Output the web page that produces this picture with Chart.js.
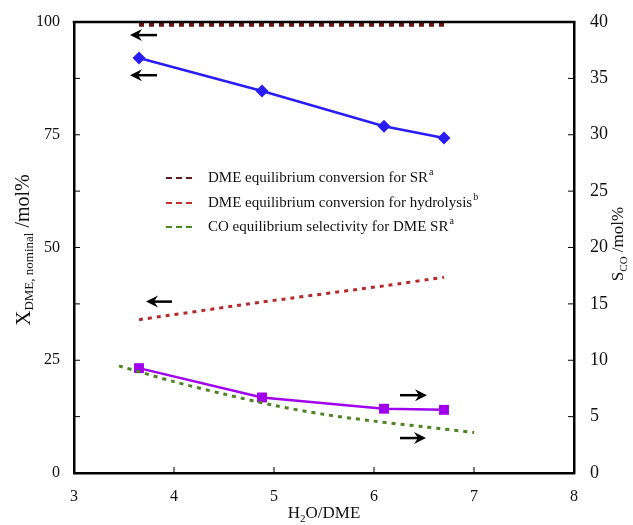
<!DOCTYPE html>
<html>
<head>
<meta charset="utf-8">
<script src="https://cdn.jsdelivr.net/npm/chart.js@4.4.1/dist/chart.umd.min.js"></script>
<style>
html,body{margin:0;padding:0;background:#fff;}
#wrap{width:633px;height:525px;}
</style>
</head>
<body>
<div id="wrap"><canvas id="c" width="633" height="525"></canvas></div>
<script>
// ---- data ----
const xMeas = [3.65, 4.88, 6.1, 6.7];
const xDME = [92.0, 84.7, 76.9, 74.3];
const sCO = [9.3, 6.7, 5.7, 5.6];
const xEqSR = [3.65, 6.7];
const eqSR = [99.4, 99.4];
const xHyd = [3.65, 4.88, 6.1, 6.7];
const eqHyd = [34.0, 37.9, 41.5, 43.4];
const xCOeq = [3.45, 4.0, 4.5, 5.0, 5.5, 6.0, 6.5, 7.0];
const coEq = [9.5, 8.1, 7.0, 6.0, 5.2, 4.6, 4.1, 3.6];
const xTicks = [3, 4, 5, 6, 7, 8];
const yLeftTicks = [0, 25, 50, 75, 100];
const yRightTicks = [0, 5, 10, 15, 20, 25, 30, 35, 40];
// arrow annotations (data units): tail x, tip x, y, axis
const arrowTail = [3.83, 3.83, 3.98, 6.26, 6.26];
const arrowTip = [3.56, 3.56, 3.72, 6.53, 6.52];
const arrowY = [97.1, 88.2, 38.0, 6.9, 3.1];
const arrowAxis = ['y', 'y', 'y', 'y2', 'y2'];
const legendLabels = [
  ['DME equilibrium conversion for SR', 'a'],
  ['DME equilibrium conversion for hydrolysis', 'b'],
  ['CO equilibrium selectivity for DME SR', 'a']
];
const legendColors = ['#5c1a1a', '#c0302e', '#4a8a22'];

const pts = (xs, ys) => xs.map((x, i) => ({x: x, y: ys[i]}));
const SERIF = '"Liberation Serif", "DejaVu Serif", serif';

const decor = {
  id: 'decor',
  afterDraw(chart) {
    const ctx = chart.ctx;
    const ca = chart.chartArea;
    const sx = chart.scales.x, sy = chart.scales.y, sy2 = chart.scales.y2;
    ctx.save();
    // top border
    ctx.strokeStyle = '#000';
    ctx.lineWidth = 2.5;
    ctx.beginPath();
    ctx.moveTo(ca.left - 1.25, ca.top);
    ctx.lineTo(ca.right + 1.25, ca.top);
    ctx.stroke();
    // inward ticks
    ctx.lineWidth = 1;
    ctx.beginPath();
    for (let v = 0; v <= 100; v += 12.5) {
      const y = sy.getPixelForValue(v);
      ctx.moveTo(ca.left, y); ctx.lineTo(ca.left + 6, y);
    }
    yRightTicks.forEach(v => {
      const y = sy2.getPixelForValue(v);
      ctx.moveTo(ca.right, y); ctx.lineTo(ca.right - 6, y);
    });
    xTicks.forEach(v => {
      const x = sx.getPixelForValue(v);
      ctx.moveTo(x, ca.bottom); ctx.lineTo(x, ca.bottom - 6);
    });
    ctx.stroke();
    // arrows
    ctx.fillStyle = '#000';
    ctx.strokeStyle = '#000';
    arrowTail.forEach((t, i) => {
      const scale = arrowAxis[i] === 'y' ? sy : sy2;
      const y = scale.getPixelForValue(arrowY[i]);
      const x0 = sx.getPixelForValue(t), x1 = sx.getPixelForValue(arrowTip[i]);
      const dir = x1 > x0 ? 1 : -1;
      ctx.lineWidth = 2.5;
      ctx.beginPath();
      ctx.moveTo(x0, y); ctx.lineTo(x1 - dir * 8, y);
      ctx.stroke();
      ctx.beginPath();
      ctx.moveTo(x1, y);
      ctx.lineTo(x1 - dir * 12, y - 6);
      ctx.lineTo(x1 - dir * 8, y);
      ctx.lineTo(x1 - dir * 12, y + 6);
      ctx.closePath();
      ctx.fill();
    });
    // legend
    ctx.textBaseline = 'middle';
    ctx.textAlign = 'left';
    const rows = [178, 203, 227];
    legendLabels.forEach((lab, i) => {
      const y = rows[i];
      ctx.strokeStyle = legendColors[i];
      ctx.lineWidth = 2;
      ctx.setLineDash([6, 4]);
      ctx.beginPath();
      ctx.moveTo(166, y); ctx.lineTo(196, y);
      ctx.stroke();
      ctx.setLineDash([]);
      ctx.fillStyle = '#111';
      ctx.font = '15px ' + SERIF;
      ctx.fillText(lab[0], 208, y);
      const w = ctx.measureText(lab[0]).width;
      ctx.font = '10px ' + SERIF;
      ctx.fillText(lab[1], 208 + w + 1, y - 6);
    });
    // axis titles
    const drawSegs = (segs) => {
      let total = 0;
      segs.forEach(s => { ctx.font = s.size + 'px ' + SERIF; s.w = ctx.measureText(s.t).width; total += s.w; });
      let x = -total / 2;
      segs.forEach(s => { ctx.font = s.size + 'px ' + SERIF; ctx.fillText(s.t, x, s.dy || 0); x += s.w; });
    };
    ctx.fillStyle = '#111';
    ctx.textBaseline = 'middle';
    // x title
    ctx.save();
    ctx.translate((ca.left + ca.right) / 2, 514);
    drawSegs([{t: 'H', size: 17}, {t: '2', size: 11, dy: 5}, {t: 'O/DME', size: 17}]);
    ctx.restore();
    // left title
    ctx.save();
    ctx.translate(24, 250);
    ctx.rotate(-Math.PI / 2);
    drawSegs([{t: 'X', size: 21}, {t: 'DME, nominal', size: 13, dy: 6}, {t: ' /mol%', size: 20}]);
    ctx.restore();
    // right title
    ctx.save();
    ctx.translate(619, 244);
    ctx.rotate(-Math.PI / 2);
    drawSegs([{t: 'S', size: 17}, {t: 'CO', size: 11, dy: 5}, {t: ' /mol%', size: 17}]);
    ctx.restore();
    ctx.restore();
  }
};

const tickFont = {family: SERIF, size: 16};

new Chart(document.getElementById('c'), {
  type: 'scatter',
  data: {
    datasets: [
      {
        label: 'eqSR', data: pts(xEqSR, eqSR), yAxisID: 'y', showLine: true,
        borderColor: '#6a1515', borderWidth: 4, borderDash: [5, 5], pointRadius: 0, fill: false
      },
      {
        label: 'eqHyd', data: pts(xHyd, eqHyd), yAxisID: 'y', showLine: true,
        borderColor: '#b52a2a', borderWidth: 3, borderDash: [4, 5], pointRadius: 0, fill: false, tension: 0.2
      },
      {
        label: 'coEq', data: pts(xCOeq, coEq), yAxisID: 'y2', showLine: true,
        borderColor: '#4e8424', borderWidth: 3, borderDash: [4, 5], pointRadius: 0, fill: false, tension: 0.3
      },
      {
        label: 'X DME', data: pts(xMeas, xDME), yAxisID: 'y', showLine: true,
        borderColor: '#2a1cf5', backgroundColor: '#2a1cf5', borderWidth: 2.5,
        pointStyle: 'rectRot', pointRadius: 6.5, pointBorderWidth: 0
      },
      {
        label: 'S CO', data: pts(xMeas, sCO), yAxisID: 'y2', showLine: true,
        borderColor: '#a000ec', backgroundColor: '#a000ec', borderWidth: 2.5,
        pointStyle: 'rect', pointRadius: 7, pointBorderWidth: 0
      }
    ]
  },
  options: {
    responsive: false,
    animation: false,
    events: [],
    layout: {padding: {top: 22, left: 0, right: 0, bottom: 0}},
    plugins: {legend: {display: false}, tooltip: {enabled: false}},
    scales: {
      x: {
        type: 'linear', min: 3, max: 8,
        afterBuildTicks: s => { s.ticks = xTicks.map(v => ({value: v})); },
        ticks: {font: tickFont, color: '#111', padding: 6},
        grid: {display: false},
        border: {display: true, color: '#000', width: 2.5},
        afterFit: s => { s.height = 52; }
      },
      y: {
        position: 'left', min: 0, max: 100,
        afterBuildTicks: s => { s.ticks = yLeftTicks.map(v => ({value: v})); },
        ticks: {font: tickFont, color: '#111', padding: 6},
        grid: {display: false},
        border: {display: true, color: '#000', width: 2.5},
        afterFit: s => { s.width = 74; }
      },
      y2: {
        position: 'right', min: 0, max: 40,
        afterBuildTicks: s => { s.ticks = yRightTicks.map(v => ({value: v})); },
        ticks: {font: {family: SERIF, size: 18}, color: '#111', padding: 8},
        grid: {display: false},
        border: {display: true, color: '#000', width: 2.5},
        afterFit: s => { s.width = 59; }
      }
    }
  },
  plugins: [decor]
});
</script>
</body>
</html>
